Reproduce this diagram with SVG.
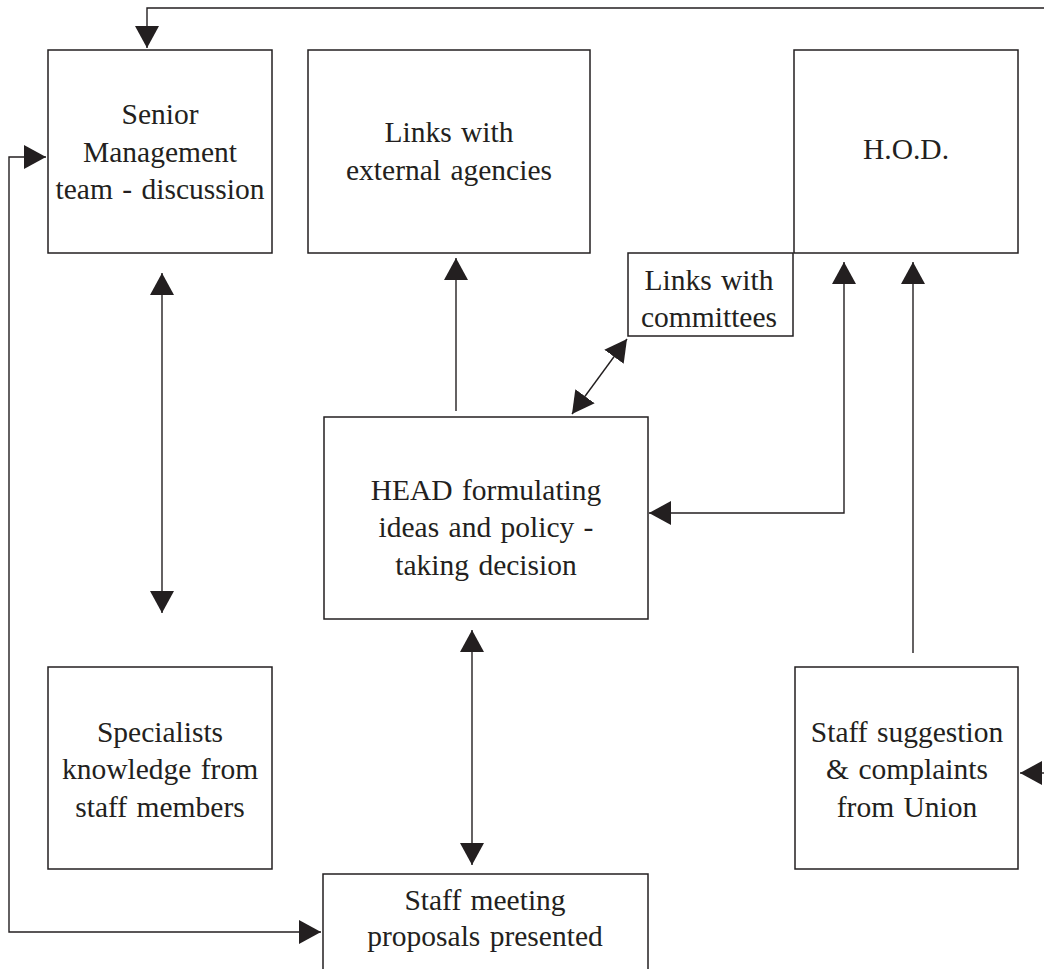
<svg xmlns="http://www.w3.org/2000/svg" width="1044" height="969" viewBox="0 0 1044 969">
<style>
.box{fill:#fff;stroke:#231f20;stroke-width:1.5}
.lbl{font-family:"Liberation Serif","Times New Roman",serif;font-size:29.5px;fill:#231f20;text-anchor:middle;word-spacing:2px}
.con{fill:none;stroke:#231f20;stroke-width:1.4}
</style>
<defs>
<marker id="ah" markerUnits="userSpaceOnUse" markerWidth="23" markerHeight="25" refX="22" refY="12" orient="auto-start-reverse" viewBox="0 0 23 25">
<path d="M0,0 L22,12 L0,24 z" fill="#231f20"/>
</marker>
</defs>
<rect width="1044" height="969" fill="#fff"/>
<g id="senior"><rect class="box" x="48" y="50" width="224" height="203"/>
<text class="lbl" x="160" y="124">Senior</text><text class="lbl" x="160" y="162">Management</text><text class="lbl" x="160" y="199">team - discussion</text></g>
<g id="external"><rect class="box" x="308" y="50" width="282" height="203"/>
<text class="lbl" x="449" y="142">Links with</text><text class="lbl" x="449" y="180">external agencies</text></g>
<g id="hod"><rect class="box" x="794" y="50" width="224" height="203"/>
<text class="lbl" x="906" y="159">H.O.D.</text></g>
<g id="committees"><rect class="box" x="628" y="253" width="165" height="83"/>
<text class="lbl" x="709" y="290">Links with</text><text class="lbl" x="709" y="327">committees</text></g>
<g id="head"><rect class="box" x="324" y="417" width="324" height="202"/>
<text class="lbl" x="486" y="500">HEAD formulating</text><text class="lbl" x="486" y="537">ideas and policy -</text><text class="lbl" x="486" y="575">taking decision</text></g>
<g id="specialists"><rect class="box" x="48" y="667" width="224" height="202"/>
<text class="lbl" x="160" y="742">Specialists</text><text class="lbl" x="160" y="779">knowledge from</text><text class="lbl" x="160" y="817">staff members</text></g>
<g id="suggestion"><rect class="box" x="795" y="667" width="223" height="202"/>
<text class="lbl" x="907" y="742">Staff suggestion</text><text class="lbl" x="907" y="779">&amp; complaints</text><text class="lbl" x="907" y="817">from Union</text></g>
<g id="meeting"><rect class="box" x="323" y="874" width="325" height="110"/>
<text class="lbl" x="485" y="910">Staff meeting</text><text class="lbl" x="485" y="946">proposals presented</text></g>
<g id="connectors">
<path class="con" d="M1044,8 H147 V48" marker-end="url(#ah)"/>
<path class="con" d="M321,932 H9 V157 H46" marker-start="url(#ah)" marker-end="url(#ah)"/>
<path class="con" d="M162,273 V613" marker-start="url(#ah)" marker-end="url(#ah)"/>
<path class="con" d="M456,411 V258" marker-end="url(#ah)"/>
<path class="con" d="M572,414 L627,339" marker-start="url(#ah)" marker-end="url(#ah)"/>
<path class="con" d="M844,262 V513 H649" marker-start="url(#ah)" marker-end="url(#ah)"/>
<path class="con" d="M913,653 V262" marker-end="url(#ah)"/>
<path class="con" d="M472,630 V865" marker-start="url(#ah)" marker-end="url(#ah)"/>
<path class="con" d="M1044,773 H1020" marker-end="url(#ah)"/>
</g>
</svg>
